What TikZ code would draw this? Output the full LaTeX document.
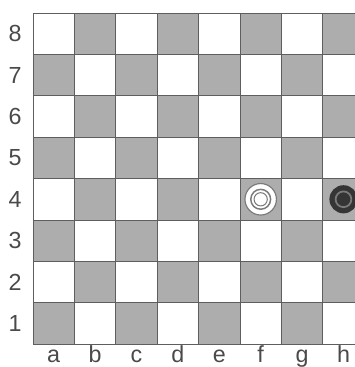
\documentclass[tikz,border=0pt]{standalone}
\usepackage{fontspec}
\setmainfont{Liberation Sans}
\definecolor{Board}{HTML}{ADADAD}
\definecolor{Grid}{HTML}{5E5E5E}
\definecolor{Ink}{HTML}{4A4A4A}
\definecolor{Rim}{HTML}{7A7A7A}
\definecolor{Stone}{HTML}{353535}
\begin{document}
\begin{tikzpicture}[every node/.style={font=\fontsize{16}{19}\selectfont,text=Ink,inner sep=0pt}]
\useasboundingbox (-0.797,-0.551) rectangle (7.778,8.314);
\clip (-0.797,-0.551) rectangle (7.778,8.314);
\fill[white] (-0.797,-0.551) rectangle (7.778,8.314);
\foreach \r in {0,...,7}\foreach \c in {0,2,4,6}
  \fill[Board] ({\c+mod(\r,2)},\r) rectangle +(1,1);
\draw[Grid,line width=0.6pt] (0,0) grid (8,8);
\foreach \n in {1,...,8} \node (rank\n) at (-0.43,\n-0.5) {\n};
\foreach \f [count=\k] in {a,...,h} \node[anchor=base] (file\f) at (\k-0.5,-0.45) {\f};
% white stone on f4
\draw[Rim,fill=white,line width=0.8pt] (5.5,3.5) circle (0.38);
\draw[Rim,line width=1pt] (5.5,3.5) circle (0.24);
\draw[Rim,line width=0.7pt] (5.5,3.5) circle (0.16);
% black stone on h4
\fill[Stone] (7.5,3.5) circle (0.34);
\draw[Rim,line width=1.2pt] (7.5,3.5) circle (0.19);
\end{tikzpicture}
\end{document}
